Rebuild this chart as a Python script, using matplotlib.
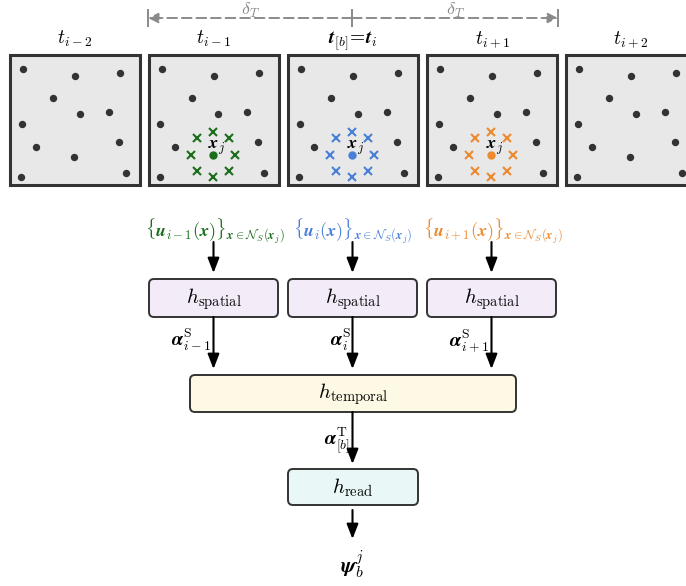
import matplotlib
matplotlib.use("Agg")
import matplotlib.pyplot as plt
from matplotlib.patches import Rectangle, FancyBboxPatch, FancyArrowPatch

plt.rcParams['mathtext.fontset'] = 'cm'
plt.rcParams['font.family'] = 'DejaVu Serif'

# particle positions inside a snapshot (px, from the panel's top-left corner)
dots_x = [13, 65, 110, 43, 69.5, 98.8, 11.5, 26, 109.3, 11, 115.8]
dots_y = [14.3, 21, 18.3, 43.3, 59.3, 57, 68.7, 91.7, 86.7, 122.3, 117.7]
query_xy = (64, 100)
# neighbour offsets around the query particle
nb_dx = [0, -16, 16, -22, 22, -16, 16, 0]
nb_dy = [-23, -17, -17, 0, 0, 16, 16, 22]

time_labels = [r'$t_{i-2}$', r'$t_{i-1}$', r'$\boldsymbol{t}_{[b]}\!=\!\boldsymbol{t}_i$',
               r'$t_{i+1}$', r'$t_{i+2}$']
frame_colors = [None, '#1a6e1a', '#4a7fd6', '#ec8a2e', None]
input_labels = [r'$\{\boldsymbol{u}_{i-1}(\boldsymbol{x})\}_{\boldsymbol{x}\in\mathcal{N}_S(\boldsymbol{x}_j)}$',
                r'$\{\boldsymbol{u}_{i}(\boldsymbol{x})\}_{\boldsymbol{x}\in\mathcal{N}_S(\boldsymbol{x}_j)}$',
                r'$\{\boldsymbol{u}_{i+1}(\boldsymbol{x})\}_{\boldsymbol{x}\in\mathcal{N}_S(\boldsymbol{x}_j)}$']
alpha_labels = [r'$\boldsymbol{\alpha}_{i-1}^{\mathrm{S}}$', r'$\boldsymbol{\alpha}_{i}^{\mathrm{S}}$',
                r'$\boldsymbol{\alpha}_{i+1}^{\mathrm{S}}$']

fig = plt.figure(figsize=(6.86, 5.86), dpi=100)
ax = fig.add_axes([0, 0, 1, 1])
ax.set_xlim(0, 686)
ax.set_ylim(586, 0)
ax.axis('off')

panel_left = [10, 148.5, 288, 427, 566]
panel_top, size = 55, 130
dark = '#333333'

for k, x0 in enumerate(panel_left):
    ax.add_patch(Rectangle((x0, panel_top), size, size, facecolor='#e8e8e8',
                           edgecolor=dark, lw=2.2, zorder=1))
    ax.text(x0 + size / 2, 44, time_labels[k], ha='center', va='baseline', fontsize=14)
    ax.plot([x0 + d for d in dots_x], [panel_top + d for d in dots_y], 'o',
            color=dark, ms=4.3, zorder=3)
    qx, qy = x0 + query_xy[0], panel_top + query_xy[1]
    c = frame_colors[k]
    if c is None:
        ax.plot(qx, qy + 2, 'o', color=dark, ms=4.3, zorder=3)
        continue
    ax.plot(qx, qy, 'o', color=c, ms=5, zorder=3)
    ax.plot([qx + d for d in nb_dx], [qy + d for d in nb_dy], 'x', color=c,
            ms=5.5, mew=1.5, zorder=3)
    ax.text(qx - 5, qy - 6, r'$\boldsymbol{x}_j$', fontsize=13, ha='left', va='baseline', zorder=4)

# delta_T time window
grey = '#8a8a8a'
for xa, xb in [(352, 148), (352, 558)]:
    ax.add_patch(FancyArrowPatch((xa, 18), (xb, 18), arrowstyle='-|>,head_length=6,head_width=3',
                                 color=grey, lw=1.4, linestyle=(0, (5, 2.5)),
                                 shrinkA=0, shrinkB=0, mutation_scale=1))
    ax.plot([xb, xb], [10, 26], color=grey, lw=1.4)
    ax.text((xa + xb) / 2, 14.5, r'$\delta_T$', color=grey, ha='center', va='baseline', fontsize=13)
ax.plot([352, 352], [10, 26], color=grey, lw=1.4)


def arrow(x, y0, y1):
    ax.add_patch(FancyArrowPatch((x, y0), (x, y1), arrowstyle='-|>,head_length=9,head_width=3.5',
                                 color='black', lw=1.5, shrinkA=0, shrinkB=0, mutation_scale=1))


def box(x0, x1, y0, y1, fc, label, fs=15):
    ax.add_patch(FancyBboxPatch((x0, y0), x1 - x0, y1 - y0, boxstyle='round,pad=0,rounding_size=5',
                                facecolor=fc, edgecolor=dark, lw=1.4))
    ax.text((x0 + x1) / 2, (y0 + y1) / 2 + 1, label, ha='center', va='center', fontsize=fs)


col_x = [213.5, 352.5, 491.5]
input_left = [145, 293, 423]
spatial_left = [149, 288, 427]
for k in range(3):
    ax.text(input_left[k], 237, input_labels[k], color=frame_colors[k + 1], ha='left',
            va='baseline', fontsize=13)
    arrow(col_x[k], 242, 273)
    box(spatial_left[k], spatial_left[k] + 129, 279, 317, '#f3ecf8', r'$h_{\mathrm{spatial}}$')
    arrow(col_x[k], 317, 369)
    ax.text(col_x[k] - 2, 346, alpha_labels[k], ha='right', va='baseline', fontsize=14)

box(190, 516, 375, 412, '#fdf9e5', r'$h_{\mathrm{temporal}}$')
arrow(352.5, 412, 464)
ax.text(350, 445, r'$\boldsymbol{\alpha}_{[b]}^{\mathrm{T}}$', ha='right', va='baseline', fontsize=14)
box(288, 418, 469, 505, '#eaf7f7', r'$h_{\mathrm{read}}$')
arrow(352.5, 510, 539)
ax.text(352, 572, r'$\boldsymbol{\psi}_b^j$', ha='center', va='baseline', fontsize=16)

fig.savefig('out.png', dpi=100)
